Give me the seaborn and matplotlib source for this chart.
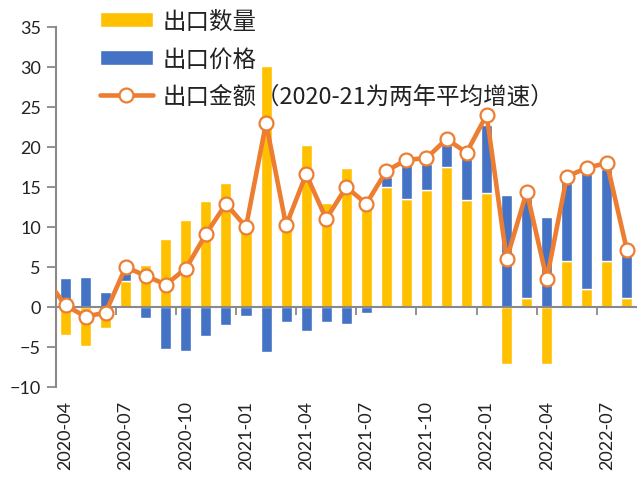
import numpy as np
import pandas as pd
import matplotlib
matplotlib.use("Agg")
import matplotlib.pyplot as plt
import seaborn as sns

months = ["2020-04", "2020-05", "2020-06", "2020-07", "2020-08", "2020-09", "2020-10",
          "2020-11", "2020-12", "2021-01", "2021-02", "2021-03", "2021-04", "2021-05",
          "2021-06", "2021-07", "2021-08", "2021-09", "2021-10", "2021-11", "2021-12",
          "2022-01", "2022-02", "2022-03", "2022-04", "2022-05", "2022-06", "2022-07",
          "2022-08"]
qty = [-3.5, -4.9, -2.6, 3.3, 5.25, 8.5, 10.9, 13.2, 15.5, 10.3, 30.1, 11.5, 20.2, 13.0,
       17.4, 12.8, 15.0, 13.5, 14.6, 17.5, 13.4, 14.25, -7.1, 1.1, -7.1, 5.7, 2.25, 5.75, 1.1]
price = [3.6, 3.7, 1.9, 1.0, -1.4, -5.25, -5.5, -3.6, -2.3, -1.1, -5.6, -1.9, -3.0, -1.9,
         -2.1, -0.7, 1.2, 4.5, 3.3, 2.7, 5.3, 8.45, 14.0, 12.5, 11.3, 10.3, 14.55, 11.5, 5.7]
value_2020_03 = 3.6
value = [0.2, -1.2, -0.7, 5.0, 3.9, 2.8, 4.8, 9.1, 12.9, 10.0, 23.0, 10.2, 16.6, 11.0,
         15.0, 12.9, 17.0, 18.4, 18.6, 21.0, 19.3, 24.0, 6.0, 14.4, 3.5, 16.3, 17.4, 18.0, 7.1]

LBL_QTY = "出口数量"
LBL_PRICE = "出口价格"
LBL_VALUE = "出口金额（2020-21为两年平均增速）"

YEL = "#FFC000"
BLUE = "#4472C4"
ORANGE = "#ED7D31"
GRAY = "#898989"

sns.set_theme(style="white")
plt.rcParams["font.family"] = ["Lato", "Noto Sans CJK SC", "DejaVu Sans"]

qa = np.array(qty)
pa = np.array(price)
bottom = np.where(np.sign(qa) == np.sign(pa), qa, 0.0)
df = pd.DataFrame({"month": months, "qty": qty, "price": price, "bottom": bottom})

fig = plt.figure(figsize=(6.37, 4.85), dpi=100)
ax = fig.add_axes([55.5 / 637, 1 - 388 / 485, 1 - 55.5 / 637, (388 - 28) / 485])

sns.barplot(data=df, x="month", y="qty", color=YEL, saturation=1, width=0.55,
            errorbar=None, ax=ax, label=LBL_QTY)
sns.barplot(data=df, x="month", y="price", color=BLUE, saturation=1, width=0.55,
            errorbar=None, ax=ax, label=LBL_PRICE, bottom=df["bottom"].to_numpy())

xline = np.arange(-1, len(months))
yline = [value_2020_03] + value
sns.lineplot(x=xline, y=yline, color=ORANGE, lw=3.3, marker="o", markersize=10,
             markerfacecolor="white", markeredgecolor=ORANGE, markeredgewidth=1.6,
             ax=ax, label=LBL_VALUE, zorder=3)

ax.set_xlim(-0.5, len(months) - 0.5)
ax.set_ylim(-10, 35)
ax.set_yticks(np.arange(-10, 36, 5))
ax.set_xlabel("")
ax.set_ylabel("")

for s in ["top", "right"]:
    ax.spines[s].set_visible(False)
ax.spines["left"].set_color(GRAY)
ax.spines["left"].set_linewidth(1.5)
ax.spines["bottom"].set_position(("data", 0))
ax.spines["bottom"].set_color(GRAY)
ax.spines["bottom"].set_linewidth(1.5)

ax.set_xticks(np.arange(2.5, len(months) - 1, 3))
ax.set_xticklabels([])
ax.tick_params(axis="x", length=6, width=1.3, color=GRAY, direction="out", bottom=True)
ax.tick_params(axis="y", length=6.5, width=1.3, color=GRAY, direction="out", left=True,
               labelsize=13, pad=4, labelcolor="#222222")

sec = ax.secondary_xaxis(0)
sec.set_xticks(np.arange(0, len(months), 3), labels=months[::3])
sec.tick_params(length=0, pad=9, labelsize=13, labelrotation=90, labelcolor="#222222")
sec.spines["bottom"].set_visible(False)

h, l = ax.get_legend_handles_labels()
hd = dict(zip(l, h))
order = [LBL_QTY, LBL_PRICE, LBL_VALUE]
ax.legend([hd[k] for k in order], order, loc="upper left",
          bbox_to_anchor=(100 / 637, 1 - 11 / 485),
          bbox_transform=fig.transFigure, frameon=False,
          prop={"family": ["Noto Sans CJK SC", "DejaVu Sans"], "size": 16.9},
          handlelength=2.25, handleheight=0.62, handletextpad=0.42, labelspacing=0.62,
          borderpad=0, borderaxespad=0, labelcolor="#222222")

fig.savefig("out.png", dpi=100)
